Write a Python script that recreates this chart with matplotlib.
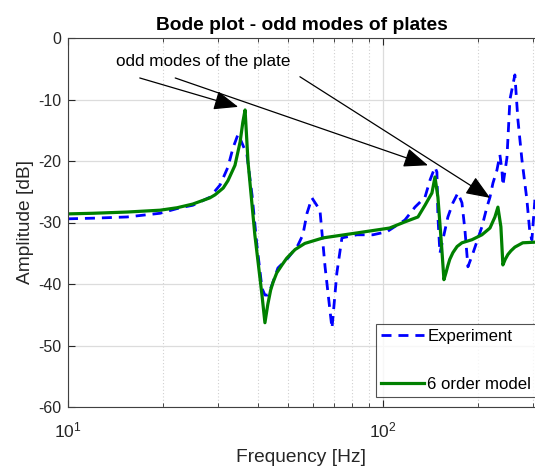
import matplotlib
matplotlib.use("Agg")
import matplotlib.pyplot as plt
from matplotlib.ticker import LogLocator, NullFormatter, MultipleLocator

plt.rcParams['font.family'] = ['Liberation Sans', 'DejaVu Sans']
plt.rcParams['axes.unicode_minus'] = False
plt.rcParams['mathtext.fontset'] = 'custom'
plt.rcParams['mathtext.rm'] = 'Liberation Sans'
plt.rcParams['mathtext.it'] = 'Liberation Sans'

# Experiment (measured) amplitude
exp_freq = [10.0, 12.0, 15.4, 19.6, 22.7, 24.9, 28.2, 30.4, 32.2, 33.4, 34.7, 35.9,
            37.0, 38.4, 39.8, 41.3, 42.2, 43.1, 44.4, 46.4, 49.9, 53.7, 55.7, 57.4,
            59.5, 63.1, 65.5, 68.9, 71.4, 74.1, 82.6, 92.9, 103, 117.4, 126.4, 136.0,
            141.1, 146.3, 148.4, 149.5, 151.7, 155.0, 160.8, 166.8, 173.0, 178.2,
            182.1, 186.2, 193.1, 206.2, 213.9, 218.7, 223.5, 230.1, 235.2, 238.7,
            240.4, 247.6, 253.1, 262.4, 268.3, 276.3, 286.5, 292.9, 297.2, 303.8]
exp_db = [-29.4, -29.3, -29.1, -28.5, -27.6, -27.2, -25.9, -23.9, -21.0, -17.9, -15.6, -17.4,
          -19.0, -25.5, -33.7, -40.7, -41.8, -41.8, -40.2, -37.4, -35.8, -33.7, -32.0, -28.5,
          -26.0, -28.0, -37.2, -47.2, -38.2, -32.5, -32.0, -32.0, -31.5, -29.6, -27.5, -25.9,
          -23.1, -21.0, -21.8, -29.1, -35.0, -32.8, -29.1, -26.8, -25.2, -26.8,
          -31.2, -37.2, -35.0, -30.7, -27.5, -25.9, -23.6, -21.5, -19.0, -21.5,
          -24.0, -19.5, -10.0, -6.0, -13.3, -19.8, -26.3, -31.7, -32.8, -26.3]

# 6th order model amplitude
mod_freq = [10.0, 12.0, 15.4, 19.6, 22.2, 24.9, 28.2, 29.3, 31.1, 32.2, 33.9, 35.2,
            35.9, 36.5, 37.3, 39.2, 41.3, 42.2, 43.1, 44.0, 44.8, 46.0, 47.8, 49.5,
            52.6, 56.5, 64.6, 82.6, 105, 117.4, 129.2, 136.0, 143.1, 146.3, 149.5,
            153.9, 156.2, 158.5, 160.8, 163.0, 166.8, 172.0, 178.2, 191.7, 206.2,
            218.7, 226.8, 231.8, 236.9, 240.4, 244.5, 249.4, 255.0, 262.4, 278, 304]
mod_db = [-28.6, -28.5, -28.3, -28.0, -27.6, -27.0, -26.0, -25.5, -24.4, -23.2, -20.7, -16.9,
          -13.7, -11.7, -20.2, -32.0, -41.8, -46.3, -43.3, -41.0, -39.7, -38.2, -36.9, -35.8,
          -34.4, -33.4, -32.5, -31.7, -30.9, -29.9, -29.1, -27.2, -25.2, -22.6, -25.9,
          -34.5, -39.3, -38.2, -37.0, -36.0, -34.9, -33.9, -33.3, -32.8, -32.0,
          -30.9, -29.1, -27.5, -30.7, -36.9, -36.0, -35.2, -34.6, -34.0, -33.3, -33.2]

legend_labels = ['Experiment', '6 order model']
title = 'Bode plot - odd modes of plates'
annot_text = 'odd modes of the plate'
arrow_targets = [(34.7, -11.2), (139, -20.7), (219, -26.0)]
arrow_starts = [(16.9, -6.5), (21.9, -6.5), (54.5, -6.3)]

fig = plt.figure(figsize=(5.35, 4.68), dpi=100)
ax = fig.add_axes([68/535, 1-407/468, 1-68/535, (407-38)/468])

ax.semilogx(exp_freq, exp_db, '--', color='#0000ff', lw=2.0, dashes=(3.6, 2.5), label=legend_labels[0])
ax.semilogx(mod_freq, mod_db, '-', color='#008000', lw=2.3, label=legend_labels[1])

ax.set_xlim(10, 304)
ax.set_ylim(-60, 0)
ax.yaxis.set_major_locator(MultipleLocator(10))
ax.xaxis.set_major_locator(LogLocator(base=10, numticks=10))
ax.xaxis.set_minor_locator(LogLocator(base=10, subs=range(2, 10), numticks=10))
ax.xaxis.set_minor_formatter(NullFormatter())

ax.grid(True, which='major', color='#dcdcdc', lw=0.9, ls='-')
ax.grid(True, which='minor', axis='x', color='#d0d0d0', lw=0.8, ls=(0, (1, 2)))
ax.set_axisbelow(True)

ax.tick_params(which='both', direction='in', top=True, right=False, labelsize=11.5,
               colors='#262626')
ax.tick_params(axis='y', pad=5)
ax.tick_params(axis='x', pad=10, labelsize=12.5)
ax.tick_params(which='major', length=5)
ax.tick_params(which='minor', length=3)
for s in ['left', 'bottom', 'top']:
    ax.spines[s].set_color('#404040')
    ax.spines[s].set_linewidth(0.8)
ax.spines['right'].set_visible(False)

ax.set_xlabel('Frequency [Hz]', fontsize=13.8, color='#262626', labelpad=6)
ax.set_ylabel('Amplitude [dB]', fontsize=13.8, color='#262626', labelpad=3)
ax.set_title(title, fontsize=13.8, fontweight='bold', pad=6)

ax.text(26.8, -3.9, annot_text, fontsize=12.3, ha='center', va='center')
for (xs, ys), (xt, yt) in zip(arrow_starts, arrow_targets):
    ax.annotate('', xy=(xt, yt), xytext=(xs, ys),
                arrowprops=dict(arrowstyle='-|>,head_length=1.0,head_width=0.4',
                                color='black', lw=0.9, mutation_scale=15,
                                shrinkA=0, shrinkB=0))

leg = ax.legend(loc='lower left', bbox_to_anchor=(0.66, 0.027), fontsize=12.1,
                handlelength=2.55, labelspacing=1.95, handletextpad=0.2,
                frameon=True, fancybox=False, borderaxespad=0, borderpad=0.3)
leg.get_frame().set_edgecolor('#262626')
leg.get_frame().set_linewidth(0.8)

fig.savefig('out.png', dpi=100)
